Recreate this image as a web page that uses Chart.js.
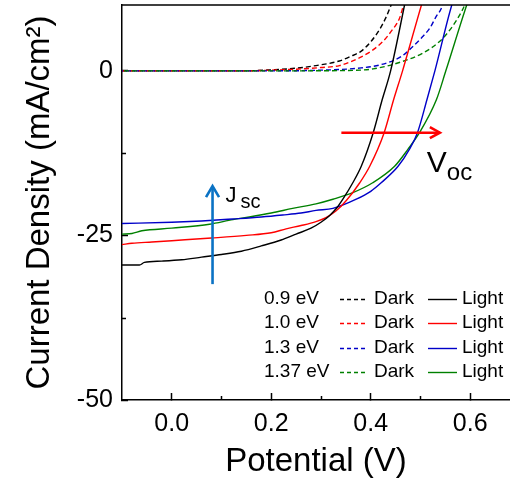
<!DOCTYPE html>
<html>
<head>
<meta charset="utf-8">
<script src="https://cdn.jsdelivr.net/npm/chart.js@4.4.1/dist/chart.umd.min.js"></script>
<style>
  html, body { margin: 0; padding: 0; background: #fff; }
</style>
</head>
<body>
<canvas id="jv" width="510" height="488"></canvas>
<script>
// J-V curves: potential (V) vs current density (mA/cm2), dark and light
const potentialTicks = [0, 0.2, 0.4, 0.6];
const potentialTickLabels = ["0.0", "0.2", "0.4", "0.6"];
const potentialMinor = [0.1, 0.3, 0.5];
const currentTicks = [-50, -25, 0];
const currentTickLabels = ["-50", "-25", "0"];
const currentMinor = [-37.5, -12.5];

const bandgaps = ["0.9 eV", "1.0 eV", "1.3 eV", "1.37 eV"];
const colors = ["#000000", "#ff0000", "#0000c8", "#008000"];

// [V, J] pairs
const dark09 = [[-0.1,0],[0.15,0],[0.2,0.15],[0.25,0.4],[0.29,0.8],[0.337,1.5],[0.36,2.2],[0.381,3.0],[0.401,4.5],[0.418,6.3],[0.43,8.0],[0.441,10],[0.446,11]];
const dark10 = [[-0.1,0],[0.15,0],[0.2,0.1],[0.25,0.25],[0.3,0.5],[0.337,0.8],[0.378,2.0],[0.401,3.0],[0.425,4.5],[0.441,6.0],[0.458,8.0],[0.466,10],[0.47,11]];
const dark13 = [[-0.1,0],[0.2,0],[0.3,0.1],[0.381,0.45],[0.421,0.95],[0.462,2.2],[0.482,3.5],[0.502,5.0],[0.519,6.5],[0.532,8.3],[0.542,9.5],[0.546,10.5]];
const dark137 = [[-0.1,0],[0.25,0],[0.35,0.05],[0.405,0.3],[0.465,1.45],[0.505,2.7],[0.539,4.5],[0.562,6.5],[0.579,8.5],[0.589,10],[0.592,10.6]];

const light09 = [[-0.1,-29.5],[-0.065,-29.5],[-0.055,-29.1],[-0.02,-28.9],[0.02,-28.7],[0.06,-28.3],[0.1,-27.9],[0.14,-27.4],[0.18,-26.6],[0.22,-25.7],[0.25,-24.8],[0.28,-23.9],[0.3,-23.0],[0.317,-22.0],[0.332,-20.8],[0.344,-19.5],[0.364,-17.0],[0.381,-14.5],[0.405,-9.4],[0.423,-4.4],[0.44,0],[0.468,10],[0.472,11.5]];
const light10 = [[-0.1,-26.4],[-0.08,-26.2],[-0.04,-26.0],[0.0,-25.8],[0.08,-25.4],[0.15,-25.0],[0.2,-24.6],[0.23,-24.0],[0.26,-23.5],[0.29,-22.9],[0.31,-22.3],[0.33,-21.3],[0.351,-19.7],[0.378,-17.0],[0.398,-14.5],[0.427,-9.4],[0.446,-4.4],[0.464,0],[0.502,10],[0.508,11.5]];
const light13 = [[-0.1,-23.2],[0.0,-23.0],[0.06,-22.8],[0.123,-22.5],[0.18,-22.2],[0.223,-21.9],[0.26,-21.6],[0.29,-21.2],[0.324,-20.9],[0.371,-19.5],[0.4,-18.3],[0.421,-17.0],[0.455,-14.5],[0.478,-11.9],[0.494,-9.4],[0.513,-4.4],[0.529,0],[0.563,10],[0.57,11.5]];
const light137 = [[-0.1,-24.8],[-0.08,-24.7],[-0.06,-24.3],[0.0,-23.9],[0.076,-23.3],[0.123,-22.6],[0.156,-22.2],[0.2,-21.6],[0.243,-20.9],[0.29,-20.2],[0.324,-19.5],[0.364,-18.5],[0.404,-17.0],[0.448,-14.5],[0.475,-11.9],[0.498,-9.4],[0.532,-4.4],[0.551,0],[0.593,10],[0.6,11.5]];

const darkSeries = [dark09, dark10, dark13, dark137];
const lightSeries = [light09, light10, light13, light137];

// annotation arrows (data units)
const jscArrow = { x: 0.082, from: -32.4, to: -17.5 };
const vocArrow = { y: -9.4, from: 0.341, to: 0.539 };

const FONT = "'Liberation Sans', Arial, sans-serif";
Chart.defaults.font.family = FONT;
Chart.defaults.color = "#000";

const toXY = arr => arr.map(p => ({ x: p[0], y: p[1] }));

const datasets = [];
lightSeries.forEach((s, i) => {
  datasets.push({
    label: bandgaps[i] + " Light",
    data: toXY(s),
    borderColor: colors[i],
    borderWidth: 1.4,
    pointRadius: 0,
    cubicInterpolationMode: "monotone",
  });
});
darkSeries.slice().reverse().forEach((s, k) => {
  const i = darkSeries.length - 1 - k;
  datasets.push({
    label: bandgaps[i] + " Dark",
    data: toXY(s),
    borderColor: colors[i],
    borderWidth: 1.4,
    borderDash: [5, 3],
    borderDashOffset: i * 2,
    pointRadius: 0,
    cubicInterpolationMode: "monotone",
  });
});

function arrow(ctx, x1, y1, x2, y2, color, head, half) {
  const ang = Math.atan2(y2 - y1, x2 - x1);
  ctx.strokeStyle = color;
  ctx.lineWidth = 2.6;
  ctx.beginPath();
  ctx.moveTo(x1, y1);
  ctx.lineTo(x2, y2);
  ctx.stroke();
  ctx.beginPath();
  ctx.moveTo(x2 - head * Math.cos(ang) - half * Math.sin(ang), y2 - head * Math.sin(ang) + half * Math.cos(ang));
  ctx.lineTo(x2, y2);
  ctx.lineTo(x2 - head * Math.cos(ang) + half * Math.sin(ang), y2 - head * Math.sin(ang) - half * Math.cos(ang));
  ctx.stroke();
}

const extras = {
  id: "extras",
  afterDraw(chart) {
    const { ctx, chartArea: a } = chart;
    const x = chart.scales.x, y = chart.scales.y;
    ctx.save();

    // top frame line and minor ticks
    ctx.strokeStyle = "#000";
    ctx.lineWidth = 1.5;
    ctx.beginPath();
    ctx.moveTo(a.left, a.top);
    ctx.lineTo(a.right, a.top);
    potentialMinor.forEach(v => {
      const px = Math.round(x.getPixelForValue(v)) + 0.5;
      ctx.moveTo(px, a.bottom);
      ctx.lineTo(px, a.bottom - 4);
    });
    currentMinor.forEach(v => {
      const py = Math.round(y.getPixelForValue(v)) + 0.5;
      ctx.moveTo(a.left, py);
      ctx.lineTo(a.left + 4, py);
    });
    ctx.stroke();

    // Jsc arrow
    const jx = x.getPixelForValue(jscArrow.x);
    const jTop = y.getPixelForValue(jscArrow.to);
    arrow(ctx, jx, y.getPixelForValue(jscArrow.from), jx, jTop, "#0a72c4", 11, 6.5);
    ctx.fillStyle = "#000";
    ctx.textBaseline = "alphabetic";
    ctx.textAlign = "left";
    ctx.font = "22px " + FONT;
    ctx.fillText("J", jx + 13, jTop + 16);
    ctx.font = "20px " + FONT;
    ctx.fillText("sc", jx + 28, jTop + 22);

    // Voc arrow
    const vy = y.getPixelForValue(vocArrow.y);
    const vEnd = x.getPixelForValue(vocArrow.to);
    arrow(ctx, x.getPixelForValue(vocArrow.from), vy, vEnd, vy, "#ff0000", 10, 5.5);
    ctx.fillStyle = "#000";
    ctx.font = "30px " + FONT;
    ctx.fillText("V", vEnd - 13, vy + 39);
    ctx.font = "24px " + FONT;
    ctx.fillText("oc", vEnd + 7, vy + 47);

    // legend: energy, dashed Dark, solid Light
    const rows = [299, 323, 348, 372];
    ctx.font = "19px " + FONT;
    ctx.textBaseline = "middle";
    bandgaps.forEach((lab, i) => {
      const ry = rows[i];
      ctx.fillStyle = "#000";
      ctx.fillText(lab, 264, ry);
      ctx.fillText("Dark", 374, ry);
      ctx.fillText("Light", 462, ry);
      ctx.strokeStyle = colors[i];
      ctx.lineWidth = 1.4;
      ctx.setLineDash([4, 3]);
      ctx.beginPath();
      ctx.moveTo(340, ry + 0.5);
      ctx.lineTo(368, ry + 0.5);
      ctx.stroke();
      ctx.setLineDash([]);
      ctx.beginPath();
      ctx.moveTo(428, ry + 0.5);
      ctx.lineTo(457, ry + 0.5);
      ctx.stroke();
    });
    ctx.restore();
  }
};

new Chart(document.getElementById("jv"), {
  type: "line",
  data: { datasets: datasets },
  options: {
    responsive: false,
    animation: false,
    layout: { padding: { top: 5, right: 0, left: 0, bottom: 0 } },
    plugins: { legend: { display: false }, tooltip: { enabled: false } },
    scales: {
      x: {
        type: "linear",
        min: -0.1,
        max: 0.68,
        afterFit: s => { s.height = 88; s.paddingLeft = 0; s.paddingRight = 0; },
        afterBuildTicks: s => { s.ticks = potentialTicks.map(v => ({ value: v })); },
        ticks: {
          autoSkip: false,
          maxRotation: 0,
          padding: 16,
          font: { size: 25 },
          color: "#000",
          callback: (v, i) => potentialTickLabels[i],
        },
        grid: { drawOnChartArea: false, drawTicks: true, tickLength: -7, tickWidth: 1.5, tickColor: "#000" },
        border: { display: true, color: "#000", width: 1.5 },
        title: { display: true, text: "Potential (V)", font: { size: 33 }, color: "#000", padding: { top: 0, bottom: 6 } },
      },
      y: {
        type: "linear",
        min: -50,
        max: 10,
        afterFit: s => { s.width = 122; s.paddingTop = 0; s.paddingBottom = 0; },
        afterBuildTicks: s => { s.ticks = currentTicks.map(v => ({ value: v })); },
        ticks: {
          autoSkip: false,
          padding: 15,
          font: { size: 25 },
          color: "#000",
          callback: (v, i) => currentTickLabels[i],
        },
        grid: { drawOnChartArea: false, drawTicks: true, tickLength: -6, tickWidth: 1.5, tickColor: "#000" },
        border: { display: true, color: "#000", width: 1.5 },
        title: { display: true, text: "Current Density (mA/cm²)", font: { size: 33 }, color: "#000", padding: { top: 20, bottom: 0 } },
      },
    },
  },
  plugins: [extras],
});
</script>
</body>
</html>
